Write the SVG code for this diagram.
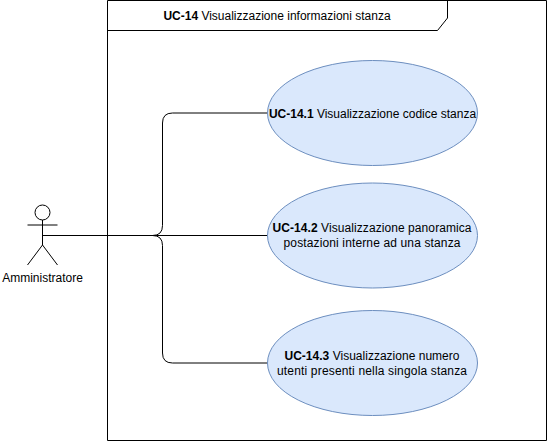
<svg xmlns="http://www.w3.org/2000/svg" width="548" height="442" viewBox="0 0 548 442">
<style>
.l{fill:none;stroke:#000;stroke-width:1}
.u{fill:#dae8fc;stroke:#6c8ebf;stroke-width:1}
text{font-family:"Liberation Sans",Arial,sans-serif;font-size:12px;fill:#000;text-anchor:middle}
.b{font-weight:bold}
</style>
<rect width="548" height="442" fill="#fff"/>
<g id="frame">
<path class="l" d="M107.5 0.5H546.5V440.5H107.5Z"/>
<path class="l" d="M107.5 30.5H437.5L447.5 18V0.5"/>
<text x="277" y="20"><tspan class="b">UC-14</tspan> Visualizzazione informazioni stanza</text>
</g>
<g id="connectors">
<path class="l" d="M42.5 235.5H152.5Q162.5 235.5 162.5 225.5V123Q162.5 113 172.5 113H267.5"/>
<path class="l" d="M42.5 235.5H267.5"/>
<path class="l" d="M152.5 235.5Q162.5 235.5 162.5 245.5V353Q162.5 363 172.5 363H267.5"/>
</g>
<g id="actor">
<circle class="l" cx="42.5" cy="212.5" r="7.5"/>
<path class="l" d="M42.5 220V245M27.5 225H57.5M27.5 265L42.5 245L57.5 265"/>
<text x="42.5" y="282">Amministratore</text>
</g>
<g id="uc1">
<ellipse class="u" cx="372.5" cy="113" rx="105" ry="52.5"/>
<text x="372.5" y="118"><tspan class="b">UC-14.1</tspan> Visualizzazione codice stanza</text>
</g>
<g id="uc2">
<ellipse class="u" cx="372.5" cy="235.5" rx="105" ry="52.5"/>
<text x="372" y="232" textLength="199"><tspan class="b">UC-14.2</tspan> Visualizzazione panoramica</text>
<text x="372" y="247" textLength="177">postazioni interne ad una stanza</text>
</g>
<g id="uc3">
<ellipse class="u" cx="372.5" cy="363" rx="105" ry="52.5"/>
<text x="372" y="360" textLength="175"><tspan class="b">UC-14.3</tspan> Visualizzazione numero</text>
<text x="372" y="375" textLength="190">utenti presenti nella singola stanza</text>
</g>
</svg>
